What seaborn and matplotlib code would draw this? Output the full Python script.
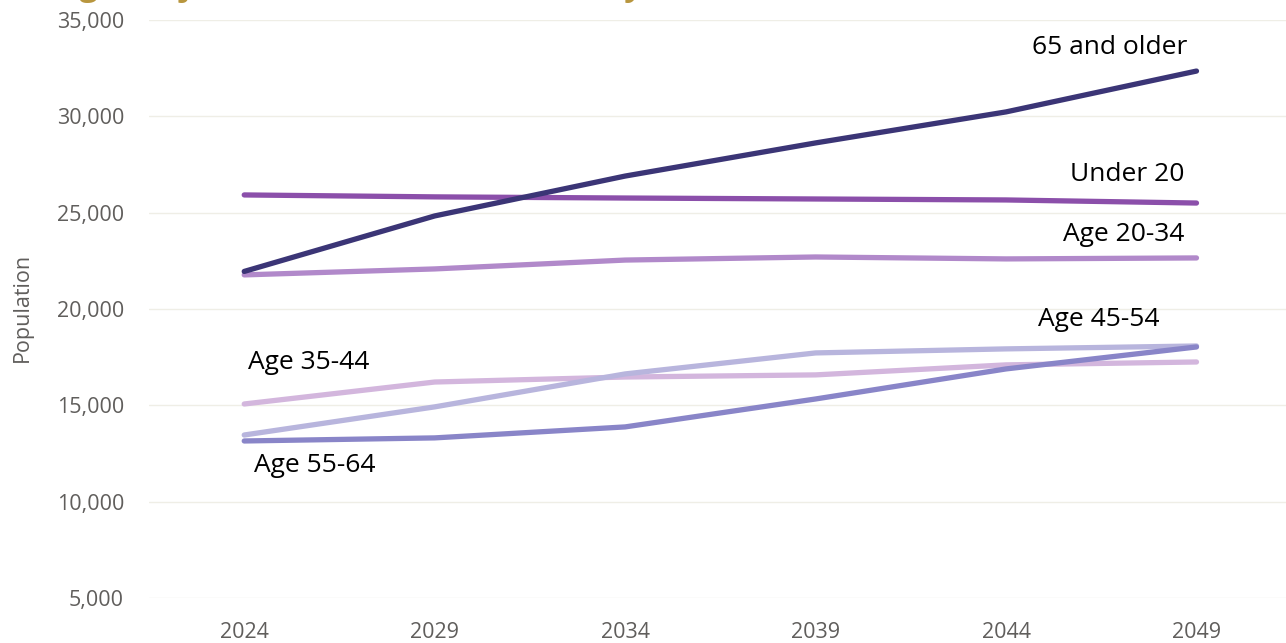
import matplotlib
matplotlib.use("Agg")
import matplotlib.pyplot as plt
import seaborn as sns
import pandas as pd

# Projected population by age group
years = [2024, 2029, 2034, 2039, 2044, 2049]
age_groups = ["65 and older", "Under 20", "Age 20-34", "Age 35-44", "Age 45-54", "Age 55-64"]
pop_65_older = [21950, 24830, 26900, 28620, 30230, 32350]
pop_under_20 = [25920, 25820, 25760, 25710, 25660, 25500]
pop_20_34 = [21770, 22080, 22540, 22700, 22600, 22650]
pop_35_44 = [15070, 16210, 16470, 16580, 17100, 17250]
pop_45_54 = [13460, 14920, 16630, 17720, 17930, 18080]
pop_55_64 = [13150, 13310, 13880, 15330, 16890, 18030]
y_ticks = [5000, 10000, 15000, 20000, 25000, 30000, 35000]

series = [pop_65_older, pop_under_20, pop_20_34, pop_35_44, pop_45_54, pop_55_64]
df = pd.DataFrame(
    [(y, g, v) for g, vals in zip(age_groups, series) for y, v in zip(years, vals)],
    columns=["Year", "Group", "Population"],
)

palette = {
    "65 and older": "#3b3576",
    "Under 20": "#8b4faa",
    "Age 20-34": "#b189ca",
    "Age 35-44": "#d3b6dd",
    "Age 45-54": "#b8b5dd",
    "Age 55-64": "#8985c8",
}

sns.set_theme(style="white")
plt.rcParams["font.family"] = ["Open Sans", "DejaVu Sans"]

fig = plt.figure(figsize=(12.86, 6.43), dpi=100)
ax = fig.add_axes([149 / 1286, 1 - 598 / 643, 1 - 149 / 1286, (598 - 20) / 643])

# draw back-to-front so the darker lines sit on top
draw_order = ["Age 35-44", "Age 45-54", "Age 20-34", "Age 55-64", "Under 20", "65 and older"]
for g in draw_order:
    sub = df[df["Group"] == g]
    sns.lineplot(data=sub, x="Year", y="Population", color=palette[g], lw=3.8,
                 ax=ax, solid_capstyle="round", legend=False)

ax.set_xlim(2021.5, 2051.35)
ax.set_ylim(5000, 35000)
ax.set_xticks(years)
ax.set_xticklabels([str(y) for y in years])
ax.set_yticks(y_ticks)
ax.set_yticklabels([f"{v:,}" for v in y_ticks])
ax.grid(axis="y", color="#efeee6", lw=1)
ax.grid(axis="x", visible=False)
for s in ax.spines.values():
    s.set_visible(False)
ax.tick_params(axis="both", length=0, labelsize=15.5, colors="#605e5c")
ax.tick_params(axis="x", pad=17)
ax.tick_params(axis="y", pad=18)
ax.set_xlabel("")
ax.set_ylabel("Population", fontsize=15.5, color="#605e5c")
ax.yaxis.set_label_coords((33 - 149) / 1137, (598 - 307) / 578)

# direct labels beside each line
label_anchor = {
    "65 and older": (5, (-9, 24), "right"),
    "Under 20": (5, (-12, 29), "right"),
    "Age 20-34": (5, (-12, 23), "right"),
    "Age 45-54": (5, (-37, 26), "right"),
    "Age 35-44": (0, (4, 41), "left"),
    "Age 55-64": (0, (10, -25), "left"),
}
for g, vals in zip(age_groups, series):
    i, off, ha = label_anchor[g]
    ax.annotate(g, xy=(years[i], vals[i]), xytext=off, textcoords="offset pixels",
                ha=ha, va="center", fontsize=19, color="#000000")

# chart title sits above the visible area
fig.text(57 / 1286, 1 + 5 / 643, "Age Projections for the Next Twenty-Five Years",
         ha="left", va="baseline", fontsize=23.5, color="#b8963e", fontweight="bold")

fig.savefig("out.png", dpi=100)
